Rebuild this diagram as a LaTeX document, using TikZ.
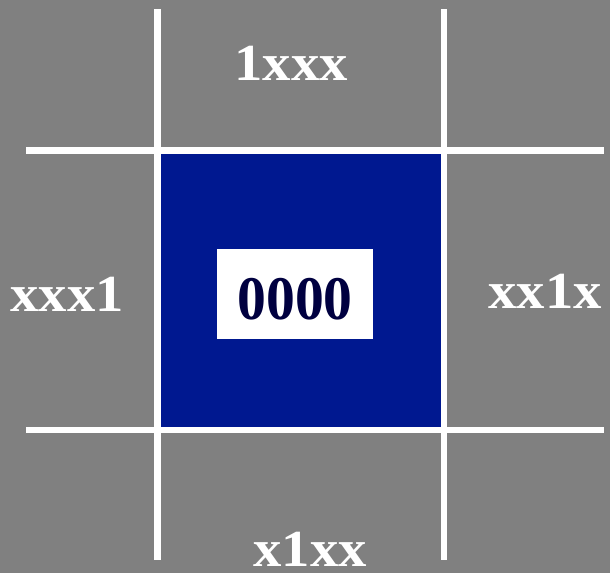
\documentclass[tikz,border=0pt]{standalone}
\usepackage{fontspec}
\setmainfont{Liberation Serif}
\definecolor{bggray}{HTML}{808080}
\definecolor{cellblue}{HTML}{001890}
\definecolor{codenavy}{HTML}{000040}
\begin{document}
\begin{tikzpicture}[x=1pt,y=-1pt,
  gridline/.style={draw=white,line width=6.5pt},
  lbl/.style={text=white,font=\bfseries\fontsize{52}{52}\selectfont,anchor=base,inner sep=0pt,xscale=1.09},
  code/.style={text=codenavy,font=\bfseries\fontsize{62}{62}\selectfont,anchor=base,inner sep=0pt,xscale=0.93}]
\useasboundingbox (0,0) rectangle (610,573);
\fill[bggray] (0,0) rectangle (610,573);
\fill[cellblue] (157.5,150.5) rectangle (444,430);
\node[fill=white,minimum width=156pt,minimum height=90pt,inner sep=0pt] (box) at (295,294) {};
\node[code] (c0) at (295,319) {0000};
% grid
\coordinate (v1t) at (157.5,9); \coordinate (v1b) at (157.5,560);
\coordinate (v2t) at (444,9); \coordinate (v2b) at (444,560);
\coordinate (h1l) at (26,150.5); \coordinate (h1r) at (604,150.5);
\coordinate (h2l) at (26,430); \coordinate (h2r) at (604,430);
\draw[gridline] (v1t) -- (v1b);
\draw[gridline] (v2t) -- (v2b);
\draw[gridline] (h1l) -- (h1r);
\draw[gridline] (h2l) -- (h2r);
% labels
\node[lbl] (top) at (291,80) {1xxx};
\node[lbl] (left) at (67,311) {xxx1};
\node[lbl] (right) at (545,308) {xx1x};
\node[lbl] (bottom) at (310,566) {x1xx};
\end{tikzpicture}
\end{document}
